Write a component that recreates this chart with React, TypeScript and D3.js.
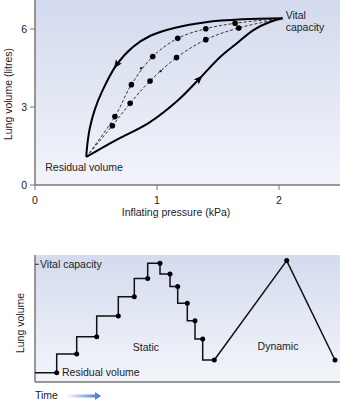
import React from "react";
import * as d3 from "d3";

// ---- Top chart data (pressure kPa, volume litres) ----
const residualVolume: [number, number] = [0.42, 1.08];
const vitalCapacity: [number, number] = [2.03, 6.41];
const inflationCurve: [number, number][] = [
  [0.42, 1.08], [0.66, 1.72], [0.93, 2.38], [1.17, 3.25], [1.35, 4.1],
  [1.52, 4.93], [1.66, 5.47], [1.79, 5.96], [1.93, 6.28], [2.03, 6.41],
];
const deflationCurve: [number, number][] = [
  [2.03, 6.41], [1.7, 6.37], [1.4, 6.26], [1.15, 6.05], [0.95, 5.75],
  [0.8, 5.3], [0.665, 4.6], [0.55, 3.6], [0.49, 2.9], [0.45, 2.2],
  [0.43, 1.6], [0.42, 1.08],
];
const staticDeflationDots: [number, number][] = [
  [0.655, 2.63], [0.79, 3.86], [0.965, 4.94], [1.17, 5.64], [1.4, 6.01], [1.64, 6.22],
];
const staticInflationDots: [number, number][] = [
  [0.634, 2.28], [0.78, 3.14], [0.943, 4.0], [1.16, 4.9], [1.4, 5.59], [1.67, 6.04],
];
const dashMarks: [number, number][] = [[0.87, 4.49], [1.03, 4.38]];
const xTicksTop = [0, 1, 2];
const yTicksTop = [0, 3, 6];

// ---- Bottom chart data (time units, volume litres) ----
const staticTime = [0, 21.7, 41.7, 61.7, 83.3, 99.3, 112.7, 125, 135, 142.7, 152.3, 160, 167.7, 179.3];
const staticVolume = [1.1, 1.1, 2.01, 2.86, 3.87, 4.81, 5.71, 6.45, 5.93, 5.31, 4.49, 3.64, 2.75, 1.72];
const dynamicTime = [179.3, 251.7, 300];
const dynamicVolume = [1.72, 6.58, 1.72];

const FONT = "'Liberation Sans', Arial, sans-serif";
const TXT = "#222";
const AXIS = "#777";

export default function App() {
  const W = 340, H = 403;
  // top scales
  const x = d3.scaleLinear().domain([0, 2.5]).range([35, 340]);
  const y = d3.scaleLinear().domain([0, 7.115]).range([185, 0]);
  // bottom scales
  const xb = d3.scaleLinear().domain([0, 305]).range([35, 340]);
  const yb = d3.scaleLinear().domain([0.645, 6.855]).range([382, 255]);

  const smooth = d3.line<[number, number]>().x(d => x(d[0])).y(d => y(d[1])).curve(d3.curveCatmullRom.alpha(0.5));
  const dashUpper = smooth([residualVolume, ...staticDeflationDots, vitalCapacity]);
  const dashLower = smooth([residualVolume, ...staticInflationDots, vitalCapacity]);

  const arrowHead = (pts: [number, number][], i: number, key: string) => {
    const a = pts[i - 1], b = pts[i + 1], p = pts[i];
    const px = x(p[0]), py = y(p[1]);
    const ang = Math.atan2(y(b[1]) - y(a[1]), x(b[0]) - x(a[0])) * 180 / Math.PI;
    return <path key={key} d="M4,0 L-5,-3.5 L-3,0 L-5,3.5 Z" fill="#000" transform={`translate(${px},${py}) rotate(${ang})`} />;
  };

  const staticPts = staticTime.map((t, i) => [t, staticVolume[i]] as [number, number]);
  const dynPts = dynamicTime.map((t, i) => [t, dynamicVolume[i]] as [number, number]);
  const stepLine = d3.line<[number, number]>().x(d => xb(d[0])).y(d => yb(d[1])).curve(d3.curveStepBefore);
  const linLine = d3.line<[number, number]>().x(d => xb(d[0])).y(d => yb(d[1]));

  return (
    <svg width={W} height={H} style={{ position: "absolute", left: 0, top: 0, fontFamily: FONT }}>
      <defs>
        <linearGradient id="bgTop" x1="0" y1="0" x2="0" y2="1">
          <stop offset="0" stopColor="#d3daee" />
          <stop offset="1" stopColor="#f2f4fa" />
        </linearGradient>
        <linearGradient id="bgBot" x1="0" y1="0" x2="0" y2="1">
          <stop offset="0" stopColor="#d4dbef" />
          <stop offset="1" stopColor="#f3f5fa" />
        </linearGradient>
        <linearGradient id="timeArrow" x1="0" y1="0" x2="1" y2="0">
          <stop offset="0" stopColor="#ffffff" />
          <stop offset="1" stopColor="#3b6fc7" />
        </linearGradient>
      </defs>
      <rect width={W} height={H} fill="#fff" />

      {/* ---------- Top chart ---------- */}
      <rect x={35} y={0} width={305} height={185} fill="url(#bgTop)" />
      <line x1={35} y1={0} x2={35} y2={185} stroke={AXIS} strokeWidth={1.5} />
      <line x1={35} y1={185} x2={340} y2={185} stroke={AXIS} strokeWidth={1.5} />
      {yTicksTop.map(t => (
        <g key={"yt" + t}>
          <line x1={30} x2={35} y1={y(t)} y2={y(t)} stroke={AXIS} strokeWidth={1} />
          <text x={27} y={y(t)} dy="0.35em" textAnchor="end" fontSize={10.5} fill={TXT}>{t}</text>
        </g>
      ))}
      {xTicksTop.map(t => (
        <g key={"xt" + t}>
          <line x1={x(t)} x2={x(t)} y1={185} y2={190} stroke={AXIS} strokeWidth={1} />
          <text x={x(t)} y={204} textAnchor="middle" fontSize={10.5} fill={TXT}>{t}</text>
        </g>
      ))}
      <text transform="translate(12,94) rotate(-90)" textAnchor="middle" fontSize={10.5} fill={TXT}>Lung volume (litres)</text>
      <text x={176} y={216} textAnchor="middle" fontSize={10.5} fill={TXT}>Inflating pressure (kPa)</text>

      <path d={dashUpper ?? ""} fill="none" stroke="#333" strokeWidth={1} strokeDasharray="3,2" />
      <path d={dashLower ?? ""} fill="none" stroke="#333" strokeWidth={1} strokeDasharray="3,2" />
      <path d={smooth(inflationCurve) ?? ""} fill="none" stroke="#000" strokeWidth={2} />
      <path d={smooth(deflationCurve) ?? ""} fill="none" stroke="#000" strokeWidth={2} />
      {arrowHead(deflationCurve, 6, "a1")}
      {arrowHead(inflationCurve, 4, "a2")}
      {[...staticDeflationDots, ...staticInflationDots].map((d, i) => (
        <circle key={"d" + i} cx={x(d[0])} cy={y(d[1])} r={2.8} fill="#000" />
      ))}
      {dashMarks.map((d, i) => (
        <circle key={"m" + i} cx={x(d[0])} cy={y(d[1])} r={1.2} fill="#222" />
      ))}
      <text x={x(residualVolume[0]) - 41} y={171} fontSize={10.5} fill={TXT}>Residual volume</text>
      <text x={x(vitalCapacity[0]) + 3} y={19} fontSize={10.5} fill={TXT}>Vital</text>
      <text x={x(vitalCapacity[0]) + 3} y={31} fontSize={10.5} fill={TXT}>capacity</text>

      {/* ---------- Bottom chart ---------- */}
      <rect x={35} y={255} width={305} height={127} fill="url(#bgBot)" />
      <line x1={35} y1={255} x2={35} y2={382} stroke={AXIS} strokeWidth={1.5} />
      <line x1={35} y1={382} x2={340} y2={382} stroke={AXIS} strokeWidth={1.5} />
      <line x1={35} x2={39} y1={yb(6.4)} y2={yb(6.4)} stroke="#333" strokeWidth={1} />
      <text x={40} y={yb(6.4)} dy="0.35em" fontSize={10.5} fill={TXT}>Vital capacity</text>
      <text x={62} y={yb(1.1)} dy="0.35em" fontSize={10.5} fill={TXT}>Residual volume</text>
      <text transform="translate(24,323) rotate(-90)" textAnchor="middle" fontSize={10.5} fill={TXT}>Lung volume</text>
      <text x={146} y={351} textAnchor="middle" fontSize={10.5} fill={TXT}>Static</text>
      <text x={278} y={350} textAnchor="middle" fontSize={10.5} fill={TXT}>Dynamic</text>

      <path d={stepLine(staticPts) ?? ""} fill="none" stroke="#111" strokeWidth={1.5} />
      <path d={linLine(dynPts) ?? ""} fill="none" stroke="#111" strokeWidth={1.5} />
      {[...staticPts.slice(1), ...dynPts.slice(1)].map((d, i) => (
        <circle key={"b" + i} cx={xb(d[0])} cy={yb(d[1])} r={2.5} fill="#000" />
      ))}

      <text x={35} y={399} fontSize={10.5} fill={TXT}>Time</text>
      <path d="M66,394.5 L95,394.5 L95,392 L101,396 L95,400 L95,397.5 L66,397.5 Z" fill="url(#timeArrow)" />
    </svg>
  );
}
